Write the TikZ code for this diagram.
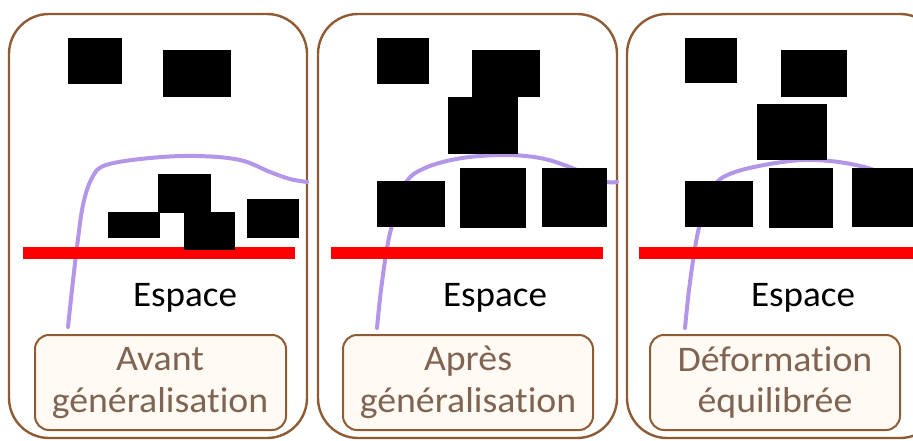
\documentclass[tikz,border=0pt]{standalone}
\usepackage{fontspec}
\setmainfont{Carlito}[Ligatures=NoCommon]
\definecolor{panelbrown}{RGB}{142,91,52}
\definecolor{labeltext}{RGB}{128,100,82}
\definecolor{labelfill}{RGB}{255,250,243}
\definecolor{curvepurple}{RGB}{180,150,232}
\definecolor{axisred}{RGB}{255,0,0}
\tikzset{
  panel/.style={draw=panelbrown,line width=2.4pt,rounded corners=40pt},
  labelbox/.style={draw=panelbrown,line width=2pt,rounded corners=14pt,fill=labelfill},
  obj/.style={fill=black},
  axis/.style={fill=axisred},
  curve/.style={draw=curvepurple,line width=4pt,line cap=round},
  espace/.style={font=\fontsize{36}{42}\selectfont,anchor=base,xscale=1.03},
  labeltxt/.style={font=\fontsize{36}{42}\selectfont,text=labeltext,anchor=base,xscale=1.05},
}
\begin{document}
\begin{tikzpicture}[x=1pt,y=-1pt]
\clip (0,0) rectangle (913,441);
\fill[white] (0,0) rectangle (913,441);
% outer panels
\draw[panel] (9,14) rectangle (307,438);
\draw[panel] (318,14) rectangle (617,438);
\draw[panel] (627,14) rectangle (940,438);
% curves (behind objects)
\draw[curve] plot[smooth,tension=0.6] coordinates {(68,327) (72,290) (77,247) (83,205) (92,178) (106,165) (150,158) (197,156) (240,160) (270,172) (290,179) (307,182)};
\draw[curve] plot[smooth,tension=0.6] coordinates {(377,328) (381,290) (387,248) (393,222) (405,184) (425,168) (462,158) (505,155) (540,158) (567,166) (590,176) (607,182) (617,182)};
\draw[curve] plot[smooth,tension=0.6] coordinates {(685,328) (689,290) (695,248) (701,220) (712,188) (735,172) (790,161) (830,161) (868,168) (890,178) (913,182)};
% red axes
\fill[axis] (23,247) rectangle (295,259);
\fill[axis] (331,247) rectangle (603,259);
\fill[axis] (639,247) rectangle (913,259);
% panel 1 objects
\fill[obj] (68,38) rectangle (122,84);
\fill[obj] (163,50) rectangle (231,97);
\fill[obj] (108,212) rectangle (160,238);
\fill[obj] (158,174) rectangle (211,213);
\fill[obj] (184,212) rectangle (235,250);
\fill[obj] (247,199) rectangle (299,238);
% panel 2 objects
\fill[obj] (377,38) rectangle (429,84);
\fill[obj] (472,50) rectangle (540,97);
\fill[obj] (448,97) rectangle (518,154);
\fill[obj] (377,181) rectangle (445,227);
\fill[obj] (460,168) rectangle (526,228);
\fill[obj] (542,168) rectangle (607,227);
% panel 3 objects
\fill[obj] (685,38) rectangle (737,83);
\fill[obj] (781,50) rectangle (847,97);
\fill[obj] (757,104) rectangle (827,160);
\fill[obj] (685,181) rectangle (753,227);
\fill[obj] (769,168) rectangle (833,228);
\fill[obj] (852,168) rectangle (920,227);
% Espace labels
\node[espace] (esp1) at (185,306) {Espace};
\node[espace] (esp2) at (495,306) {Espace};
\node[espace] (esp3) at (803,306) {Espace};
% label boxes
\draw[labelbox] (35,335) rectangle (286,430);
\draw[labelbox] (343,335) rectangle (593,430);
\draw[labelbox] (650,335) rectangle (900,430);
\node[labeltxt] (l1a) at (160,370) {Avant};
\node[labeltxt] (l1b) at (160,412) {généralisation};
\node[labeltxt] (l2a) at (468,370) {Après};
\node[labeltxt] (l2b) at (468,412) {généralisation};
\node[labeltxt] (l3a) at (775,371) {Déformation};
\node[labeltxt] (l3b) at (775,412) {équilibrée};
\end{tikzpicture}
\end{document}
